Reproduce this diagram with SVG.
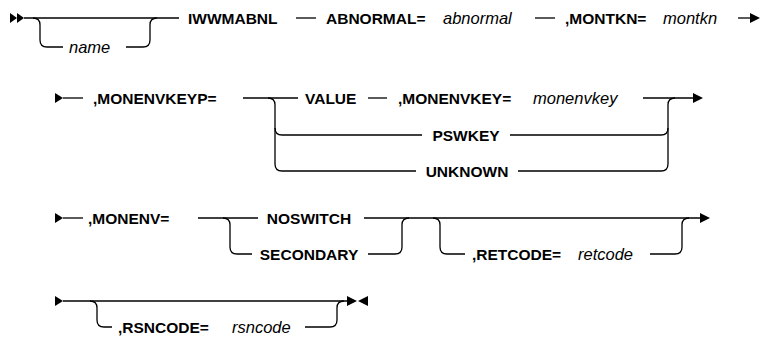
<svg xmlns="http://www.w3.org/2000/svg" width="760" height="339" viewBox="0 0 760 339">
<defs>
<style>
.t{font-family:"Liberation Sans",Arial,sans-serif;font-size:15.5px;font-weight:bold;fill:#000}
.v{font-family:"Liberation Sans",Arial,sans-serif;font-size:16.5px;font-style:italic;fill:#000}
.l{fill:none;stroke:#000;stroke-width:1.3}
.h{fill:#000}
</style>
</defs>
<rect width="760" height="339" fill="#fff"/>
<g id="connectors">
<!-- row 1 -->
<polygon class="h" points="10,13 17,18 10,23"/>
<polygon class="h" points="17,13 24,18 17,23"/>
<path class="l" d="M24,18 H179"/>
<path class="l" d="M33,18 Q40,18 40,25 V40 Q40,47 47,47 H63"/>
<path class="l" d="M126,47 H143 Q150,47 150,40 V25 Q150,18 157,18"/>
<path class="l" d="M296,18 H316"/>
<path class="l" d="M535,18 H555"/>
<path class="l" d="M738,18 H752"/>
<polygon class="h" points="750,13 760,18 750,23"/>
<!-- row 2 -->
<polygon class="h" points="55,93 63,98 55,103"/>
<path class="l" d="M63,98 H83"/>
<path class="l" d="M243,98 H298"/>
<path class="l" d="M268,98 Q275,98 275,105 V128 Q275,135 282,135 H422"/>
<path class="l" d="M275,128 V164 Q275,171 282,171 H416"/>
<path class="l" d="M368,98 H387"/>
<path class="l" d="M643,98 H695"/>
<polygon class="h" points="693,93 703,98 693,103"/>
<path class="l" d="M510,135 H661 Q668,135 668,128 V105 Q668,98 675,98"/>
<path class="l" d="M518,171 H661 Q668,171 668,164 V128"/>
<!-- row 3 -->
<polygon class="h" points="55,213 63,218 55,223"/>
<path class="l" d="M63,218 H83"/>
<path class="l" d="M198,218 H258"/>
<path class="l" d="M223,218 Q230,218 230,225 V247 Q230,254 237,254 H252"/>
<path class="l" d="M364,218 H702"/>
<polygon class="h" points="700,213 710,218 700,223"/>
<path class="l" d="M368,254 H395 Q402,254 402,247 V225 Q402,218 409,218"/>
<path class="l" d="M433,218 Q440,218 440,225 V247 Q440,254 447,254 H465"/>
<path class="l" d="M650,254 H675 Q682,254 682,247 V225 Q682,218 689,218"/>
<!-- row 4 -->
<polygon class="h" points="55,296 63,301 55,306"/>
<path class="l" d="M63,301 H347"/>
<path class="l" d="M90,301 Q97,301 97,308 V320 Q97,327 104,327 H112"/>
<path class="l" d="M305,327 H330 Q337,327 337,320 V308 Q337,301 344,301"/>
<polygon class="h" points="347,296 357,301 347,306"/>
<polygon class="h" points="368,296 358,301 368,306"/>
</g>
<g id="n-name"><text class="v" x="69" y="53">name</text></g>
<g id="n-iwwmabnl"><text class="t" x="188" y="23.5">IWWMABNL</text></g>
<g id="n-abnormal-kw"><text class="t" x="326" y="23.5">ABNORMAL=</text></g>
<g id="n-abnormal"><text class="v" x="443" y="23.5">abnormal</text></g>
<g id="n-montkn-kw"><text class="t" x="565" y="23.5">,MONTKN=</text></g>
<g id="n-montkn"><text class="v" x="663" y="23.5">montkn</text></g>
<g id="n-monenvkeyp"><text class="t" x="93" y="103.5">,MONENVKEYP=</text></g>
<g id="n-value"><text class="t" x="305" y="103.5">VALUE</text></g>
<g id="n-monenvkey-kw"><text class="t" x="398" y="103.5">,MONENVKEY=</text></g>
<g id="n-monenvkey"><text class="v" x="533" y="103.5">monenvkey</text></g>
<g id="n-pswkey"><text class="t" x="466" y="140.5" text-anchor="middle">PSWKEY</text></g>
<g id="n-unknown"><text class="t" x="467" y="176.5" text-anchor="middle">UNKNOWN</text></g>
<g id="n-monenv"><text class="t" x="88" y="223.5">,MONENV=</text></g>
<g id="n-noswitch"><text class="t" x="309" y="223.5" text-anchor="middle">NOSWITCH</text></g>
<g id="n-secondary"><text class="t" x="309" y="259.5" text-anchor="middle">SECONDARY</text></g>
<g id="n-retcode-kw"><text class="t" x="472" y="259.5">,RETCODE=</text></g>
<g id="n-retcode"><text class="v" x="578" y="259.5">retcode</text></g>
<g id="n-rsncode-kw"><text class="t" x="118" y="332.5">,RSNCODE=</text></g>
<g id="n-rsncode"><text class="v" x="232" y="332.5">rsncode</text></g>
</svg>
